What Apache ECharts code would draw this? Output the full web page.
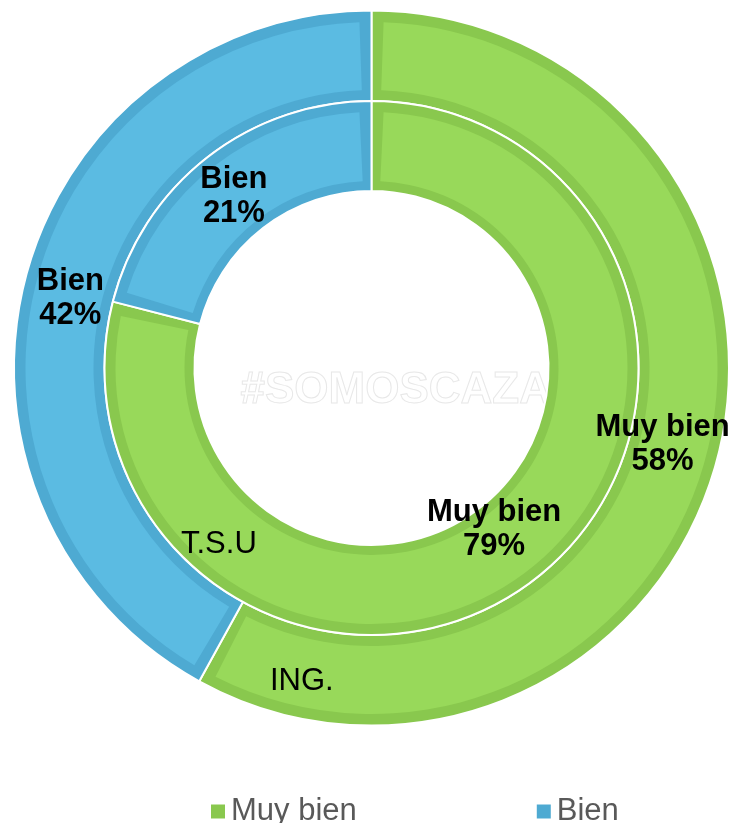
<!DOCTYPE html>
<html>
<head>
<meta charset="utf-8">
<script src="https://cdn.jsdelivr.net/npm/echarts@6/dist/echarts.min.js"></script>
<style>
  html, body { margin: 0; padding: 0; background: #fff; }
  #chart { width: 733px; height: 823px; }
</style>
</head>
<body>
<div id="chart"></div>
<script>
// data
const categories = ["Muy bien", "Bien"];
const ingValues = [58, 42];   // outer ring (ING.)
const tsuValues = [79, 21];   // inner ring (T.S.U)
const ringNames = ["ING.", "T.S.U"];

const lightColors = ["#98D95A", "#5BBBE2"];
const darkColors = ["#89C84E", "#4EAAD2"];
const font = "Liberation Sans, Arial, sans-serif";

const chart = echarts.init(document.getElementById("chart"));

function toData(values, colors, labelOffsets) {
  return categories.map((name, i) => ({
    name,
    value: values[i],
    itemStyle: { color: colors[i] },
    label: labelOffsets ? { offset: labelOffsets[i] } : undefined,
  }));
}

const center = [371.5, 368];
const labelStyle = {
  show: true,
  position: "inside",
  formatter: (p) => p.name + "\n" + p.value + "%",
  color: "#000",
  fontFamily: font,
  fontWeight: "bold",
  fontSize: 31,
  lineHeight: 34,
};

chart.setOption({
  animation: false,
  legend: {
    data: categories,
    left: 204,
    top: 791,
    icon: "rect",
    itemWidth: 16,
    itemHeight: 16,
    itemGap: 178,
    selectedMode: false,
    textStyle: { color: "#595959", fontSize: 31, fontFamily: font },
  },
  graphic: [
    {
      type: "text",
      left: 240,
      top: 368,
      z: -1,
      style: {
        text: "#SOMOSCAZA",
        fill: "rgba(0,0,0,0)",
        stroke: "#e8e8e8",
        lineWidth: 1,
        font: "bold 44px " + font,
      },
    },
    {
      type: "text",
      left: 181,
      top: 529,
      z: 100,
      style: { text: ringNames[1], fill: "#000", font: "31px " + font },
    },
    {
      type: "text",
      left: 270,
      top: 666,
      z: 100,
      style: { text: ringNames[0], fill: "#000", font: "31px " + font },
    },
  ],
  series: [
    // dark bands + white separators
    {
      name: ringNames[0],
      type: "pie",
      center,
      radius: [267, 357.5],
      startAngle: 90,
      clockwise: true,
      silent: true,
      label: { show: false },
      itemStyle: { borderColor: "#fff", borderWidth: 2 },
      data: toData(ingValues, darkColors),
    },
    {
      name: ringNames[1],
      type: "pie",
      center,
      radius: [177, 267],
      startAngle: 90,
      clockwise: true,
      silent: true,
      label: { show: false },
      itemStyle: { borderColor: "#fff", borderWidth: 2 },
      data: toData(tsuValues, darkColors),
    },
    // light fills
    {
      name: ringNames[0] + " fill",
      type: "pie",
      center,
      radius: [278, 346],
      startAngle: 90,
      clockwise: true,
      padAngle: 4.0,
      silent: true,
      label: labelStyle,
      labelLine: { show: false },
      data: toData(ingValues, lightColors, [[-14, -2], [4, 9]]),
    },
    {
      name: ringNames[1] + " fill",
      type: "pie",
      center,
      radius: [187, 256],
      startAngle: 90,
      clockwise: true,
      padAngle: 5.4,
      silent: true,
      label: labelStyle,
      labelLine: { show: false },
      data: toData(tsuValues, lightColors, [[-15, -16], [0, 6]]),
    },
  ],
});
</script>
</body>
</html>
